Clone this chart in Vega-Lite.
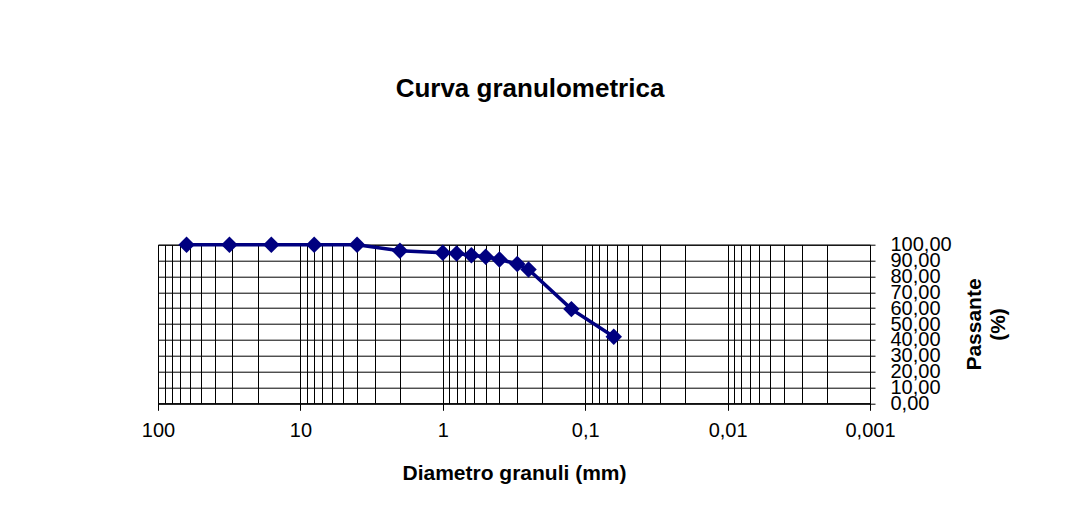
{
  "$schema": "https://vega.github.io/schema/vega-lite/v6.json",
  "autosize": {"type": "none"},
  "width": 712,
  "height": 158.6,
  "padding": {"left": 158, "top": 244.7, "right": 199, "bottom": 120.7},
  "background": "white",
  "title": {
    "text": "Curva granulometrica",
    "font": "Liberation Sans",
    "fontSize": 26,
    "fontWeight": "bold",
    "color": "black",
    "baseline": "alphabetic",
    "offset": 112,
    "dx": 16
  },
  "config": {
    "view": {"stroke": "black", "strokeWidth": 1},
    "axis": {"labelFont": "Liberation Sans", "titleFont": "Liberation Sans", "labelColor": "black", "titleColor": "black"}
  },
  "data": {
    "values": [
      {"diametro": 63, "passante": 100},
      {"diametro": 31.5, "passante": 100},
      {"diametro": 16, "passante": 100},
      {"diametro": 8, "passante": 100},
      {"diametro": 4, "passante": 100},
      {"diametro": 2, "passante": 96.2},
      {"diametro": 1, "passante": 94.9},
      {"diametro": 0.8, "passante": 94.5},
      {"diametro": 0.63, "passante": 93.4},
      {"diametro": 0.5, "passante": 92.4},
      {"diametro": 0.4, "passante": 90.7},
      {"diametro": 0.3, "passante": 87.8},
      {"diametro": 0.25, "passante": 84.4},
      {"diametro": 0.125, "passante": 59.4},
      {"diametro": 0.063, "passante": 42.0}
    ]
  },
  "encoding": {
    "x": {
      "field": "diametro",
      "type": "quantitative",
      "scale": {"type": "log", "domain": [0.001, 100], "reverse": true, "nice": false},
      "axis": {
        "orient": "bottom",
        "values": [0.001,0.002,0.003,0.004,0.005,0.006,0.007,0.008,0.009,0.01,0.02,0.03,0.04,0.05,0.06,0.07,0.08,0.09,0.1,0.2,0.3,0.4,0.5,0.6,0.7,0.8,0.9,1,2,3,4,5,6,7,8,9,10,20,30,40,50,60,70,80,90,100],
        "grid": true,
        "gridColor": "black",
        "gridWidth": 1,
        "gridOpacity": 1,
        "domainColor": "black",
        "tickColor": "black",
        "tickSize": 7,
        "tickOpacity": {"condition": {"test": "abs(log(datum.value)/LN10 - round(log(datum.value)/LN10)) < 0.001", "value": 1}, "value": 0},
        "labelExpr": "abs(log(datum.value)/LN10 - round(log(datum.value)/LN10)) < 0.001 ? replace(format(datum.value, '~g'), '.', ',') : ''",
        "labelFontSize": 20,
        "labelPadding": 10,
        "labelOverlap": false,
        "labelFlush": false,
        "title": "Diametro granuli (mm)",
        "titleFontSize": 21,
        "titleFontWeight": "bold",
        "titlePadding": 22
      }
    },
    "y": {
      "field": "passante",
      "type": "quantitative",
      "scale": {"domain": [0, 100], "nice": false},
      "axis": {
        "orient": "right",
        "values": [0,10,20,30,40,50,60,70,80,90,100],
        "grid": true,
        "gridColor": "black",
        "gridWidth": 1,
        "gridOpacity": 1,
        "domainColor": "black",
        "tickColor": "black",
        "tickSize": 5,
        "labelExpr": "replace(format(datum.value, '.2f'), '.', ',')",
        "labelFontSize": 20,
        "labelPadding": 15,
        "labelOverlap": false,
        "labelFlush": false,
        "title": ["Passante", "(%)"],
        "titleAngle": 270,
        "titleFontSize": 21,
        "titleFontWeight": "bold",
        "titleLineHeight": 24,
        "titlePadding": 9
      }
    }
  },
  "layer": [
    {"mark": {"type": "line", "color": "#000080", "strokeWidth": 3.5}},
    {"mark": {"type": "point", "shape": "diamond", "filled": true, "color": "#000080", "opacity": 1, "size": 270}}
  ]
}
